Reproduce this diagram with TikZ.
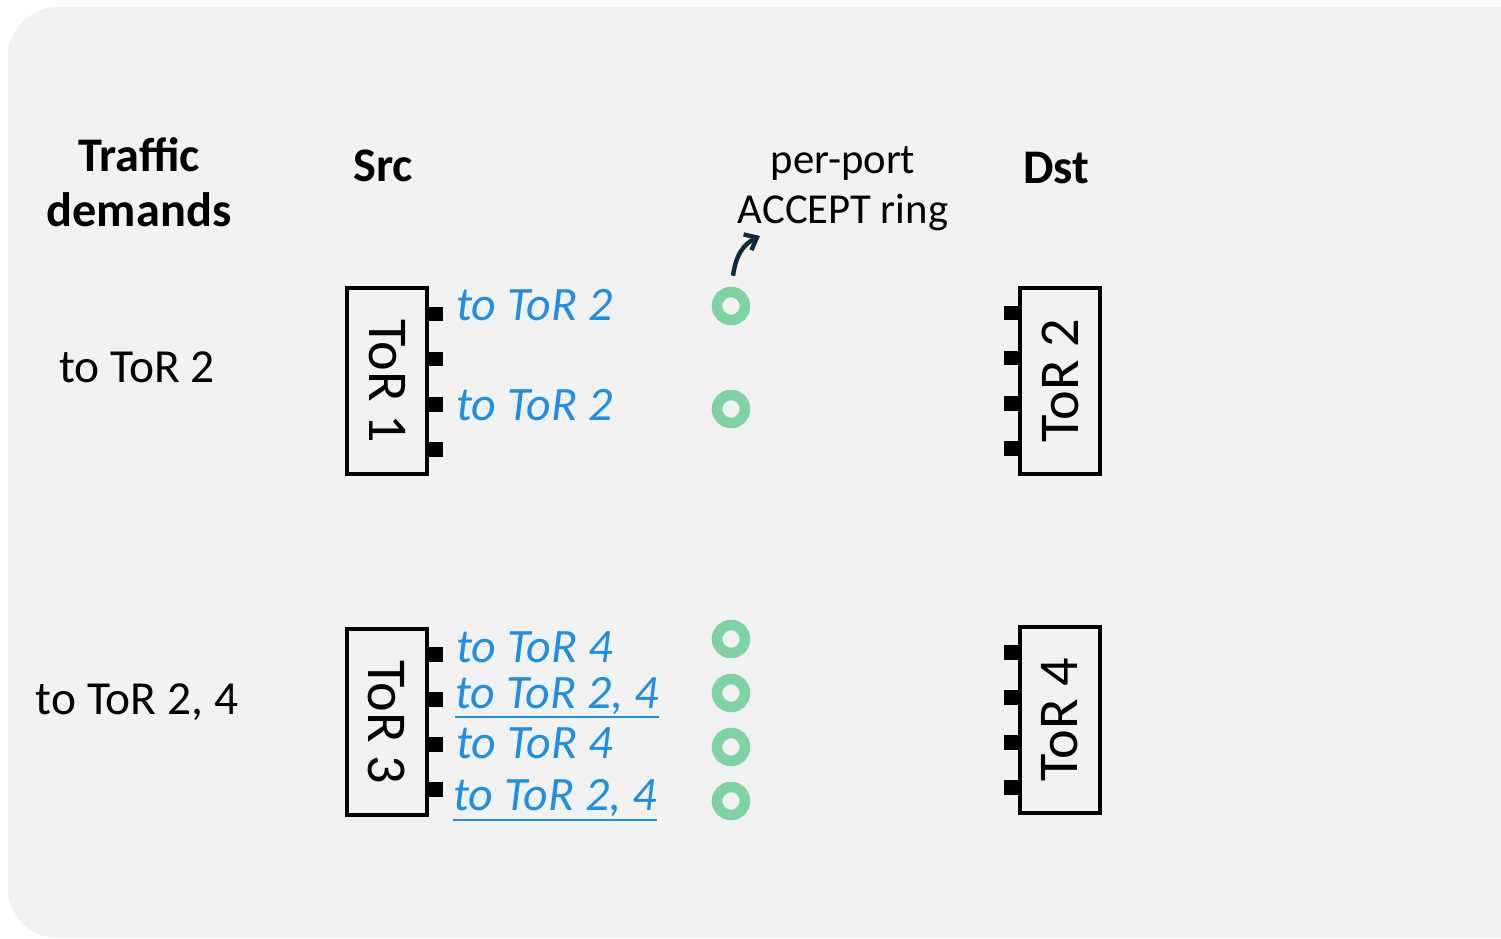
\documentclass[tikz,border=0pt]{standalone}
\usepackage{fontspec}
\setmainfont{Carlito}
\usetikzlibrary{arrows.meta,positioning,calc}
\definecolor{panelgray}{HTML}{F2F2F2}
\definecolor{portblue}{HTML}{1F8FE6}
\definecolor{ringgreen}{HTML}{7ED3A1}
\definecolor{arrownavy}{HTML}{0E2A3A}

\begin{document}
\begin{tikzpicture}[x=0.02cm, y=-0.02cm, font=\fontsize{27}{31}\selectfont,
    tor/.style={draw, line width=2pt, fill=panelgray, minimum width=3.72cm, minimum height=1.6cm, inner sep=0pt, font=\fontsize{32}{36}\selectfont},
    port/.style={fill=black, minimum width=0.32cm, minimum height=0.3cm, inner sep=0pt},
    ring/.style={circle, draw=ringgreen, line width=6pt, minimum size=0.56cm, inner sep=0pt},
    dest/.style={text=portblue, font=\fontsize{27.3}{31}\selectfont\itshape, anchor=base west, inner sep=0pt},
    head/.style={font=\fontsize{27.5}{31}\selectfont\bfseries, align=center}]
    \useasboundingbox (0,0) rectangle (1501,939);
    % background panel
    \fill[panelgray] (1501,7) [rounded corners=1cm] -- (8,7) -- (8,938) [sharp corners] -- (1501,938) -- cycle;

    % headers
    \node[head] (traffic) at (139,182) {Traffic\\demands};
    \node[head] (src) at (383,166) {Src};
    \node[head] (dst) at (1056,168) {Dst};
    \node[align=center, font=\fontsize{24.3}{28.4}\selectfont] (accept) at (843,189) {per-port\\ACCEPT ring};

    % demands
    \node (dem1) at (137,367) {to ToR 2};
    \node (dem3) at (137,702) {to ToR 2, 4};

    % source ToRs
    \foreach \i in {1,2,3,4} {
        \pgfmathsetmacro{\py}{314 + 45*(\i-1)}
        \node[port] (tora\i) at (435,\py) {};
        \pgfmathsetmacro{\qy}{654.5 + 45*(\i-1)}
        \node[port] (torc\i) at (435,\qy) {};
        \pgfmathsetmacro{\ry}{313 + 45*(\i-1)}
        \node[port] (torb\i) at (1012,\ry) {};
        \pgfmathsetmacro{\sy}{652 + 45*(\i-1)}
        \node[port] (tord\i) at (1012,\sy) {};
    }
    \node[tor, rotate=-90] (tor1) at (387,381) {ToR 1};
    \node[tor, rotate=-90] (tor3) at (387,722) {ToR 3};
    \node[tor, rotate=90] (tor2) at (1060,381) {ToR 2};
    \node[tor, rotate=90] (tor4) at (1060,720) {ToR 4};

    % per-port destinations
    \node[dest] (lab1) at (456,320) {to ToR 2};
    \node[dest] (lab2) at (456,420) {to ToR 2};
    \node[dest] (lab3) at (456,662) {to ToR 4};
    \node[dest] (lab4) at (455,708) {to ToR 2, 4};
    \node[dest] (lab5) at (456,758) {to ToR 4};
    \node[dest] (lab6) at (453,810) {to ToR 2, 4};
    \draw[portblue, line width=1.5pt] ($(lab4.base west)+(0,9)$) -- ($(lab4.base east)+(0,9)$);
    \draw[portblue, line width=1.5pt] ($(lab6.base west)+(0,10)$) -- ($(lab6.base east)+(0,10)$);

    % accept rings
    \foreach \y [count=\k] in {306,409,639,693,747,801}
        \node[ring] (ring\k) at (731,\y) {};

    \coordinate (tail) at ($(ring1.north)+(2,-11)$);
    \coordinate (tip) at (760,236);
    \draw[arrownavy, line width=2.5pt, -{Straight Barb[length=6pt,width=10pt]}]
        (tail) .. controls (736,254) and (744,244) .. (tip);
\end{tikzpicture}
\end{document}
